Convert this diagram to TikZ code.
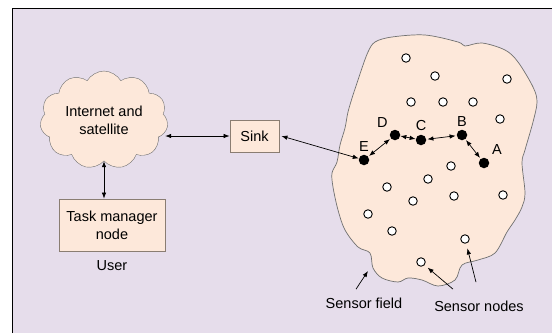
\documentclass[tikz,border=0pt]{standalone}
\usepackage{fontspec}
\setmainfont{Liberation Sans}
\usetikzlibrary{arrows.meta,shapes.symbols}
\definecolor{framebg}{HTML}{E6DDEB}
\definecolor{peach}{HTML}{FDE8DA}
\definecolor{boxline}{HTML}{8A7D72}
\definecolor{fieldline}{HTML}{707070}

\begin{document}
\begin{tikzpicture}[x=1pt, y=-1pt, font=\fontsize{14.5}{18}\selectfont]
	\tikzstyle{comp} = [
		rectangle, draw=boxline, fill=peach, line width=0.8pt, align=center
	]
	\tikzstyle{sensor} = [
		circle, draw=black, fill=white, line width=0.9pt, inner sep=0pt, minimum size=8.5pt
	]
	\tikzstyle{hop} = [
		circle, fill=black, inner sep=0pt, minimum size=10.5pt
	]
	\tikzstyle{conn} = [
		{Latex[length=6pt, width=4.5pt]}-{Latex[length=6pt, width=4.5pt]}, line width=0.7pt
	]
	\tikzstyle{pointer} = [
		-{Latex[length=6pt, width=4.5pt]}, line width=0.7pt
	]

	\useasboundingbox (0,0) rectangle (552,333);
	% Frame
	\fill[framebg] (12,8) rectangle (552,333);
	\draw[line width=1pt] (12,333) -- (12,8) -- (552,8);

	% Internet
	\node (Cloud) [cloud, cloud puffs=11, cloud puff arc=120, aspect=1.45, draw=fieldline, fill=peach,
		minimum width=128pt, minimum height=88pt, align=center] at (104,120) {Internet and\\satellite};

	% User
	\node (Task) [comp, minimum width=106pt, minimum height=52pt] at (112,225) {Task manager\\node}
		node (User) at (112,266) {User}
	;
	\node (Sink) [comp, minimum width=49pt, minimum height=32pt] at (254.5,136) {Sink};

	% Sensor field
	\draw[draw=fieldline, fill=peach, line width=0.7pt] plot[smooth cycle, tension=0.55] coordinates {
		(375,42) (392,37) (425,35) (458,42) (465,46) (482,43) (505,50) (518,62) (533,87)
		(537,102) (533,122) (525,150) (522,163) (525,193) (522,207) (515,220) (507,232)
		(495,253) (478,260) (462,265) (455,280) (438,286) (422,280) (408,278) (398,282)
		(382,278) (373,268) (370,253) (358,247) (345,230) (338,210) (333,187) (332,173)
		(337,162) (340,145) (345,128) (348,112) (353,95) (357,83) (362,68) (368,52)
	};
	\coordinate (FieldEdge) at (368,271);

	% Sensor nodes
	\foreach \n/\x/\y in {1/406/58, 2/435/76, 3/507/79, 4/411/102, 5/443/102, 6/473/102,
		7/500/119, 8/451/166, 9/428/179, 10/387/187, 11/413/201, 12/454/196, 13/503/195,
		14/368/214, 15/392/231, 16/465/239, 17/421/262}
		\node (s\n) [sensor] at (\x,\y) {};

	% Route
	\node (A) [hop, label={[label distance=1pt]above right:A}] at (484,163) {};
	\node (B) [hop, label={[label distance=0pt]above:B}] at (462,135) {};
	\node (C) [hop, label={[label distance=0pt]above:C}] at (421,140) {};
	\node (D) [hop, label={[label distance=0pt]above left:D}] at (395,135) {};
	\node (E) [hop, label={[label distance=0pt]above:E}] at (364,160) {};

	% Captions
	\node (FieldLabel) at (364,303) {Sensor field};
	\node (NodesLabel) at (479,306) {Sensor nodes};

	% Connections
	\draw[conn] (Cloud.south) -- (Cloud.south |- Task.north);
	\draw[conn] ([xshift=-2pt]Sink.west -| Cloud.east) -- (Sink.west);
	\draw[conn] ([xshift=2pt]Sink.east) -- (E);
	\draw[conn, shorten <=1pt, shorten >=1pt] (E) -- (D);
	\draw[conn] (D) -- (C);
	\draw[conn, shorten <=1pt, shorten >=1pt] (C) -- (B);
	\draw[conn, shorten <=1pt, shorten >=1pt] (B) -- (A);

	% Pointers
	\draw[pointer] (FieldLabel.north) ++(-8,-5) -- (FieldEdge);
	\draw[pointer, shorten >=4pt] (NodesLabel.north) ++(-26,-8) -- (s17);
	\draw[pointer, shorten >=5pt] (NodesLabel.north) ++(-3,-15) -- (s16);
\end{tikzpicture}
\end{document}
